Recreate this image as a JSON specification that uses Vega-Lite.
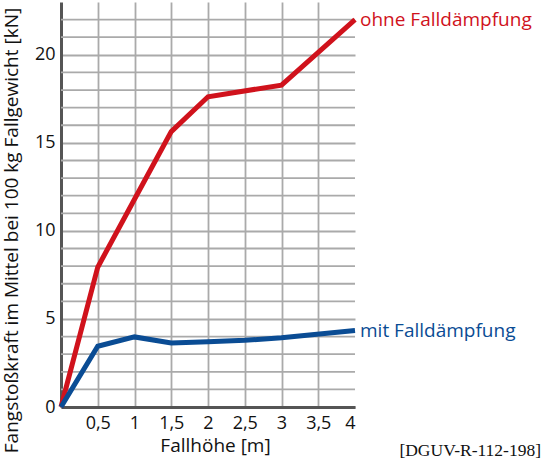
{
  "$schema": "https://vega.github.io/schema/vega-lite/v6.json",
  "autosize": {"type": "none"},
  "padding": {"left": 61, "top": 2, "right": 189, "bottom": 59},
  "width": 294,
  "height": 405,
  "background": "white",
  "config": {
    "font": "Open Sans",
    "view": {"stroke": null}
  },
  "title": {
    "text": "[DGUV-R-112-198]",
    "orient": "bottom",
    "anchor": "end",
    "frame": "group",
    "font": "Liberation Serif",
    "fontSize": 17.5,
    "fontWeight": "normal",
    "color": "#111",
    "dx": 186,
    "offset": -13
  },
  "data": {
    "values": [
      {"h": 0, "f": 0, "s": "ohne", "label": "ohne Falldämpfung"},
      {"h": 0.5, "f": 7.94, "s": "ohne", "label": "ohne Falldämpfung"},
      {"h": 1, "f": 11.8, "s": "ohne", "label": "ohne Falldämpfung"},
      {"h": 1.5, "f": 15.64, "s": "ohne", "label": "ohne Falldämpfung"},
      {"h": 2, "f": 17.62, "s": "ohne", "label": "ohne Falldämpfung"},
      {"h": 3, "f": 18.28, "s": "ohne", "label": "ohne Falldämpfung"},
      {"h": 4, "f": 22.0, "s": "ohne", "label": "ohne Falldämpfung"},
      {"h": 0, "f": 0, "s": "mit", "label": "mit Falldämpfung"},
      {"h": 0.5, "f": 3.45, "s": "mit", "label": "mit Falldämpfung"},
      {"h": 1, "f": 3.98, "s": "mit", "label": "mit Falldämpfung"},
      {"h": 1.5, "f": 3.64, "s": "mit", "label": "mit Falldämpfung"},
      {"h": 2, "f": 3.71, "s": "mit", "label": "mit Falldämpfung"},
      {"h": 2.5, "f": 3.79, "s": "mit", "label": "mit Falldämpfung"},
      {"h": 3, "f": 3.93, "s": "mit", "label": "mit Falldämpfung"},
      {"h": 4, "f": 4.34, "s": "mit", "label": "mit Falldämpfung"}
    ]
  },
  "encoding": {
    "x": {
      "field": "h",
      "type": "quantitative",
      "scale": {"domain": [0, 4], "nice": false},
      "axis": {
        "title": "Fallhöhe [m]",
        "values": [0.5, 1, 1.5, 2, 2.5, 3, 3.5, 4],
        "labelExpr": "replace(format(datum.value, '~g'), '.', ',')",
        "labelFontSize": 18,
        "labelColor": "#111",
        "labelPadding": 7,
        "labelOverlap": false,
        "titleFontSize": 19,
        "titleFontWeight": "normal",
        "titleColor": "#111",
        "titlePadding": 4,
        "titleX": 154,
        "ticks": false,
        "domainColor": "#555",
        "domainWidth": 3,
        "gridColor": {"condition": {"test": "datum.value == 4", "value": "transparent"}, "value": "#aaaaaa"},
        "gridWidth": 1.8
      }
    },
    "y": {
      "field": "f",
      "type": "quantitative",
      "scale": {"domain": [0, 23], "nice": false},
      "axis": {
        "title": "Fangstoßkraft im Mittel bei 100 kg Fallgewicht [kN]",
        "values": [0, 5, 10, 15, 20],
        "gridColor": "#aaaaaa",
        "gridWidth": 1.8,
        "labelFontSize": 18,
        "labelColor": "#111",
        "labelPadding": 6,
        "titleFontSize": 19,
        "titleFontWeight": "normal",
        "titleColor": "#111",
        "titleY": 228,
        "titleX": -40,
        "ticks": false,
        "domainColor": "#555",
        "domainWidth": 3
      }
    }
  },
  "layer": [
    {
      "mark": {"type": "rule", "color": "#aaaaaa", "strokeWidth": 1.8},
      "data": {"values": [{"g": 1}, {"g": 2}, {"g": 3}, {"g": 4}, {"g": 6}, {"g": 7}, {"g": 8}, {"g": 9}, {"g": 11}, {"g": 12}, {"g": 13}, {"g": 14}, {"g": 16}, {"g": 17}, {"g": 18}, {"g": 19}, {"g": 21}, {"g": 22}]},
      "encoding": {"y": {"field": "g", "type": "quantitative"}, "x": null}
    },
    {
      "mark": {"type": "line", "strokeWidth": 5, "strokeJoin": "miter"},
      "encoding": {
        "color": {
          "field": "s",
          "type": "nominal",
          "scale": {"domain": ["ohne", "mit"], "range": ["#d0121c", "#0a4c94"]},
          "legend": null
        }
      }
    },
    {
      "transform": [{"filter": "datum.h == 4"}],
      "mark": {"type": "text", "align": "left", "baseline": "middle", "dx": 5, "dy": 0, "fontSize": 19},
      "encoding": {
        "text": {"field": "label"},
        "color": {"field": "s", "type": "nominal", "legend": null}
      }
    }
  ]
}
